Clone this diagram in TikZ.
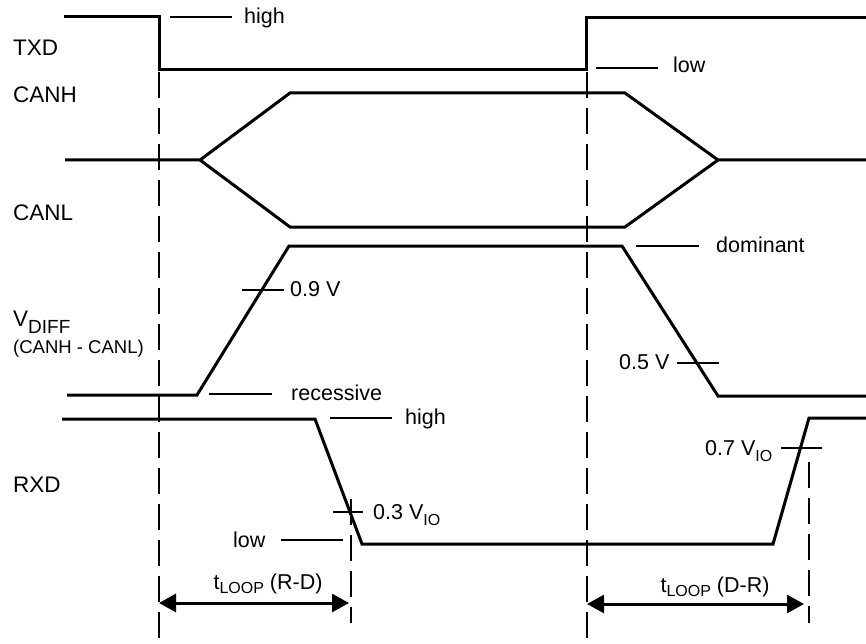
\documentclass[tikz,border=0pt]{standalone}
\usepackage{fontspec}
\setmainfont{Liberation Sans}
\usetikzlibrary{arrows.meta}
\newcommand{\lowsub}[2][6pt]{\raisebox{-#1}{\fontsize{16}{16}\selectfont #2}}
\begin{document}
\begin{tikzpicture}[x=1pt,y=-1pt,
  sig/.style={line width=3pt, line join=miter},
  tick/.style={line width=1.7pt},
  guide/.style={line width=2pt, dash pattern=on 26pt off 10pt},
  dim/.style={line width=3pt, {Triangle[length=17pt,width=18pt]}-{Triangle[length=17pt,width=18pt]}},
  lbl/.style={inner sep=0pt, anchor=base west, font=\fontsize{21.5}{24}\selectfont},
  signame/.style={inner sep=0pt, anchor=base west, font=\fontsize{22.5}{24}\selectfont},
  ]
\useasboundingbox (0,0) rectangle (866,644);

% guide lines
\coordinate (g1t) at (159,72);  \coordinate (g1b) at (159,644);
\coordinate (g2t) at (587,72);  \coordinate (g2b) at (587,644);
\coordinate (g3t) at (351,499); \coordinate (g3b) at (351,623);
\coordinate (g4t) at (809,462); \coordinate (g4b) at (809,623);
\draw[guide] (g1t) -- (g1b);
\draw[guide] (g2t) -- (g2b);
\draw[guide] (g3t) -- (g3b);
\draw[guide] (g4t) -- (g4b);

% TXD
\draw[sig] (64,17) -- (159,17) -- (159,70) -- (586,70) -- (586,18) -- (866,18);
% CANH / CANL
\draw[sig] (65,160) -- (200,160) -- (290,93) -- (625,93) -- (718,160) -- (866,160);
\draw[sig] (200,160) -- (290,227) -- (625,227) -- (718,160);
% VDIFF
\draw[sig] (67,395) -- (197,395) -- (289,246) -- (622,246) -- (718,396) -- (866,396);
% RXD
\draw[sig] (62,419) -- (315,419) -- (362,544) -- (773,544) -- (809,418) -- (866,418);

% label leader lines and ticks
\draw[tick] (170,17) -- (232,17);
\draw[tick] (596,68) -- (658,68);
\draw[tick] (242,290) -- (284,290);
\draw[tick] (677,363) -- (719,363);
\draw[tick] (209,394) -- (272,394);
\draw[tick] (636,246) -- (699,246);
\draw[tick] (330,418) -- (392,418);
\draw[tick] (333,512) -- (363,512);
\draw[tick] (281,540) -- (343,540);
\draw[tick] (781,448) -- (822,448);

% signal names
\node[signame] (txd) at (13,56) {TXD};
\node[signame] (canh) at (13,103) {CANH};
\node[signame] (canl) at (13,221) {CANL};
\node[signame] (vdiff) at (13,326) {V\raisebox{-7pt}{\fontsize{19}{20}\selectfont DIFF}};
\node[signame, font=\fontsize{18.5}{20}\selectfont] (vdiffsub) at (13,353) {(CANH - CANL)};
\node[signame] (rxd) at (13,492) {RXD};

% level labels
\node[lbl] (hi1) at (244,24) {high};
\node[lbl] (lo1) at (673,73) {low};
\node[lbl] (v09) at (290,296) {0.9 V};
\node[lbl] (rec) at (291,400) {recessive};
\node[lbl] (dom) at (716,252) {dominant};
\node[lbl] (v05) at (619,369) {0.5 V};
\node[lbl] (hi2) at (405,424) {high};
\node[lbl] (v03) at (373,519) {0.3 V\lowsub{IO}};
\node[lbl] (lo2) at (233,547) {low};
\node[lbl] (v07) at (705,455) {0.7 V\lowsub{IO}};

% loop delay dimensions
\coordinate (a1) at (159,603); \coordinate (a2) at (349,603);
\coordinate (b1) at (587,604); \coordinate (b2) at (804,604);
\draw[dim] (a1) -- (a2);
\draw[dim] (b1) -- (b2);
\node[lbl, anchor=base] (trd) at (268,589) {t\lowsub[4pt]{LOOP} (R-D)};
\node[lbl, anchor=base] (tdr) at (715,592) {t\lowsub[4pt]{LOOP} (D-R)};
\end{tikzpicture}
\end{document}
